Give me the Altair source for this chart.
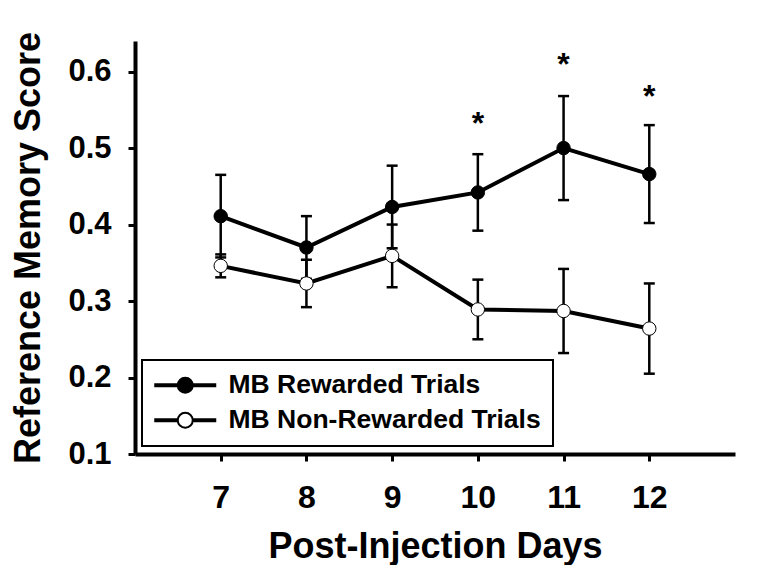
import altair as alt
import pandas as pd

# ---- data ----
days = [7, 8, 9, 10, 11, 12]
rewarded_mean = [0.411, 0.370, 0.423, 0.442, 0.500, 0.466]
rewarded_se = [0.054, 0.041, 0.054, 0.050, 0.068, 0.064]
nonrewarded_mean = [0.346, 0.323, 0.359, 0.289, 0.287, 0.264]
nonrewarded_se = [0.015, 0.031, 0.041, 0.039, 0.055, 0.059]
series_names = ["MB Rewarded Trials", "MB Non-Rewarded Trials"]
series_fill = ["black", "white"]
star_days = [10, 11, 12]
star_scores = [0.537, 0.614, 0.5725]
star_text = ["*", "*", "*"]
x_ticks = [7, 8, 9, 10, 11, 12]
y_ticks = [0.1, 0.2, 0.3, 0.4, 0.5, 0.6]

rows = []
for name, means, ses in zip(series_names, [rewarded_mean, nonrewarded_mean],
                            [rewarded_se, nonrewarded_se]):
    for d, m, s in zip(days, means, ses):
        rows.append({"day": d, "score": m, "se": s, "series": name})
df = pd.DataFrame(rows)
stars = pd.DataFrame({"day": star_days, "score": star_scores, "label": star_text})

FONT = "Liberation Sans"

xenc = alt.X("day:Q", scale=alt.Scale(domain=[6, 13], nice=False, zero=False),
             axis=alt.Axis(values=x_ticks, title="Post-Injection Days",
                           labelFontSize=32, labelPadding=21,
                           titleBaseline="alphabetic", titleY=103))


def yenc(field):
    return alt.Y(f"{field}:Q", scale=alt.Scale(domain=[0.1, 0.64], nice=False, zero=False),
                 axis=alt.Axis(values=y_ticks, format=".1f", title="Reference Memory Score",
                               labelFontSize=31, labelPadding=17,
                               titleBaseline="alphabetic", titleX=-96))


base = alt.Chart(df).transform_calculate(lo="datum.score - datum.se",
                                          hi="datum.score + datum.se")

err = base.mark_rule(color="black", strokeWidth=2.5).encode(
    x=xenc, y=yenc("lo"), y2="hi:Q", detail="series:N")
cap_lo = base.mark_tick(orient="horizontal", size=11, thickness=2.5, color="black",
                        opacity=1).encode(x=xenc, y=yenc("lo"), detail="series:N")
cap_hi = base.mark_tick(orient="horizontal", size=11, thickness=2.5, color="black",
                        opacity=1).encode(x=xenc, y=yenc("hi"), detail="series:N")
lines = base.mark_line(color="black", strokeWidth=4).encode(
    x=xenc, y=yenc("score"), detail="series:N")

# legend glyph: thick line with a circle in the middle (unit = 10 px)
legend_path = ("M-3.1,-0.093L-0.75,-0.093M-3.1,0.093L-0.75,0.093"
               "M0.75,-0.093L3.1,-0.093M0.75,0.093L3.1,0.093"
               "M-0.75,0A0.75,0.75,0,1,1,0.75,0A0.75,0.75,0,1,1,-0.75,0Z")

points = base.mark_circle(size=180, stroke="black", strokeWidth=1, opacity=1).encode(
    x=xenc, y=yenc("score"),
    fill=alt.Fill("series:N", scale=alt.Scale(domain=series_names, range=series_fill),
                  legend=alt.Legend(title=None, orient="none", legendX=7, legendY=319,
                                    direction="vertical", symbolType=legend_path,
                                    symbolSize=400, symbolOffset=18,
                                    symbolStrokeColor="black",
                                    symbolStrokeWidth=2, symbolOpacity=1,
                                    labelFont=FONT, labelFontSize=26.5,
                                    labelFontWeight="bold", labelColor="black",
                                    labelLimit=0, labelOffset=30, padding=12,
                                    rowPadding=8, fillColor="white",
                                    strokeColor="black")))

star_layer = alt.Chart(stars).mark_text(font=FONT, fontSize=32, fontWeight="bold",
                                        color="black", baseline="alphabetic",
                                        align="center", dy=14.5).encode(
    x=xenc, y=yenc("score"), text="label:N")

chart = alt.layer(err, cap_lo, cap_hi, lines, points, star_layer).properties(
    width=600, height=413,
    padding={"left": 127, "top": 33, "right": 21, "bottom": 111},
    autosize="none",
).configure_view(stroke=None).configure_axis(
    grid=False, domainColor="black", domainWidth=4, tickColor="black", tickWidth=3,
    tickSize=7, labelFont=FONT, labelFontWeight="bold", labelColor="black",
    titleFont=FONT, titleFontWeight="bold", titleFontSize=36, titleColor="black",
).configure_legend(strokeWidth=2)

chart.save("out.html", embed_options={"renderer": "svg", "actions": False})
